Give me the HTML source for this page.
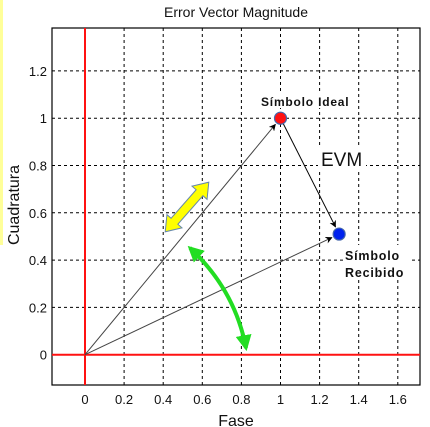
<!DOCTYPE html>
<html><head><meta charset="utf-8"><style>
html,body{margin:0;padding:0;background:#fff;}
svg{display:block;font-family:"Liberation Sans",sans-serif;}
</style></head><body>
<svg id="chart" width="430" height="427" viewBox="0 0 430 427" xmlns="http://www.w3.org/2000/svg">
<defs>
<marker id="ah" viewBox="0 0 10 10" refX="9" refY="5" markerWidth="7" markerHeight="7" orient="auto-start-reverse"><path d="M0,0 L10,5 L0,10 L3,5 z" fill="#000"/></marker>
<marker id="gh" viewBox="0 0 10 10" refX="8" refY="5" markerWidth="4" markerHeight="4" orient="auto-start-reverse"><path d="M0,0 L10,5 L0,10 z" fill="#22dd22"/></marker>
</defs>
<rect x="0" y="0" width="3" height="245" fill="#ffff99"/>
<text x="236" y="17" text-anchor="middle" font-size="14" fill="#111">Error Vector Magnitude</text>
<g id="grid"></g>
<rect x="52" y="28" width="368" height="357" fill="none" stroke="#000" stroke-width="1.2"/>
<g id="ticks"></g>
<g id="marks"></g>
<text transform="translate(19,205) rotate(-90)" text-anchor="middle" font-size="16" fill="#111">Cuadratura</text>
<text x="236" y="426" text-anchor="middle" font-size="16" fill="#111">Fase</text>
</svg>
<script>
const xTicks=[0,0.2,0.4,0.6,0.8,1,1.2,1.4,1.6];
const xTickLabels=["0","0.2","0.4","0.6","0.8","1","1.2","1.4","1.6"];
const yTicks=[0,0.2,0.4,0.6,0.8,1,1.2];
const yTickLabels=["0","0.2","0.4","0.6","0.8","1","1.2"];
const idealPoint=[1,1.0];
const receivedPoint=[1.3,0.51];
const NS="http://www.w3.org/2000/svg";
const X=v=>85+v*195.5, Y=v=>354.7-v*236.5;
function mk(t,a,p){const e=document.createElementNS(NS,t);for(const k in a)e.setAttribute(k,a[k]);p.appendChild(e);return e;}
const grid=document.getElementById('grid'),ticks=document.getElementById('ticks'),marks=document.getElementById('marks');
xTicks.forEach((v,i)=>{
  const l=mk('line',{x1:X(v),x2:X(v),y1:28,y2:385,stroke:'#000','stroke-width':1,'stroke-dasharray':'3,3'},grid);
  
  
  const t=mk('text',{x:X(v),y:404,'text-anchor':'middle','font-size':13,fill:'#111'},ticks);
  t.textContent=xTickLabels[i];
  
  
});
yTicks.forEach((v,i)=>{
  const l=mk('line',{x1:52,x2:420,y1:Y(v),y2:Y(v),stroke:'#000','stroke-width':1,'stroke-dasharray':'3,3'},grid);
  
  
  const t=mk('text',{x:47,y:Y(v)+5,'text-anchor':'end','font-size':13,fill:'#111'},ticks);
  t.textContent=yTickLabels[i];
  
  
});
let a=mk('line',{x1:X(0),x2:X(0),y1:28,y2:385,stroke:'#ff1111','stroke-width':2},marks);


a=mk('line',{x1:52,x2:420,y1:Y(0),y2:Y(0),stroke:'#ff1111','stroke-width':2},marks);


function bg(x,y,w,h,name){const r=mk('rect',{x:x,y:y,width:w,height:h,fill:'#fff'},marks);

}
bg(258,92,100,16,'ideal-label-bg');
bg(318,146,48,24,'evm-label-bg');
bg(343,245,66,34,'received-label-bg');
function vec(x1,y1,x2,y2,shrink,name,col){
  const dx=x2-x1,dy=y2-y1,d=Math.hypot(dx,dy);
  const l=mk('line',{x1:x1,y1:y1,x2:x2-dx/d*shrink,y2:y2-dy/d*shrink,stroke:col,'stroke-width':1,'marker-end':'url(#ah)'},marks);
  
  
}
vec(X(0),Y(0),X(idealPoint[0]),Y(idealPoint[1]),8,'ideal-vector','#444');
vec(X(0),Y(0),X(receivedPoint[0]),Y(receivedPoint[1]),8,'received-vector','#444');
vec(X(idealPoint[0]),Y(idealPoint[1]),X(receivedPoint[0]),Y(receivedPoint[1]),8,'error-vector','#000');
let c=mk('circle',{cx:X(idealPoint[0]),cy:Y(idealPoint[1]),r:6,fill:'#ff1111',stroke:'#4466aa','stroke-width':1.2},marks);


c=mk('circle',{cx:X(receivedPoint[0]),cy:Y(receivedPoint[1]),r:6,fill:'#0022ee',stroke:'#4466aa','stroke-width':1.2},marks);


let p=mk('polygon',{points:'-33,0 -19,-10 -19,-4.5 19,-4.5 19,-10 33,0 19,10 19,4.5 -19,4.5 -19,10',transform:'translate(187,207) rotate(-48.7)',fill:'#ffff00',stroke:'#6688aa','stroke-width':1},marks);


p=mk('path',{d:'M190,248 Q235,290 246,348',fill:'none',stroke:'#22dd22','stroke-width':4,'marker-start':'url(#gh)','marker-end':'url(#gh)'},marks);


function txt(x,y,s,size,w,name,ls){const t=mk('text',{x:x,y:y,'font-size':size,'font-weight':w,fill:'#111','letter-spacing':ls},marks);t.textContent=s;

}
txt(261,106,'Símbolo Ideal',12,'bold','ideal-symbol-label',0.8);
txt(321,166,'EVM',19,'normal','evm-label',0);
txt(345,260,'Símbolo',12.5,'bold','received-symbol-label-1',0.8);
txt(345,277,'Recibido',12.5,'bold','received-symbol-label-2',0.8);
</script>
</body></html>
